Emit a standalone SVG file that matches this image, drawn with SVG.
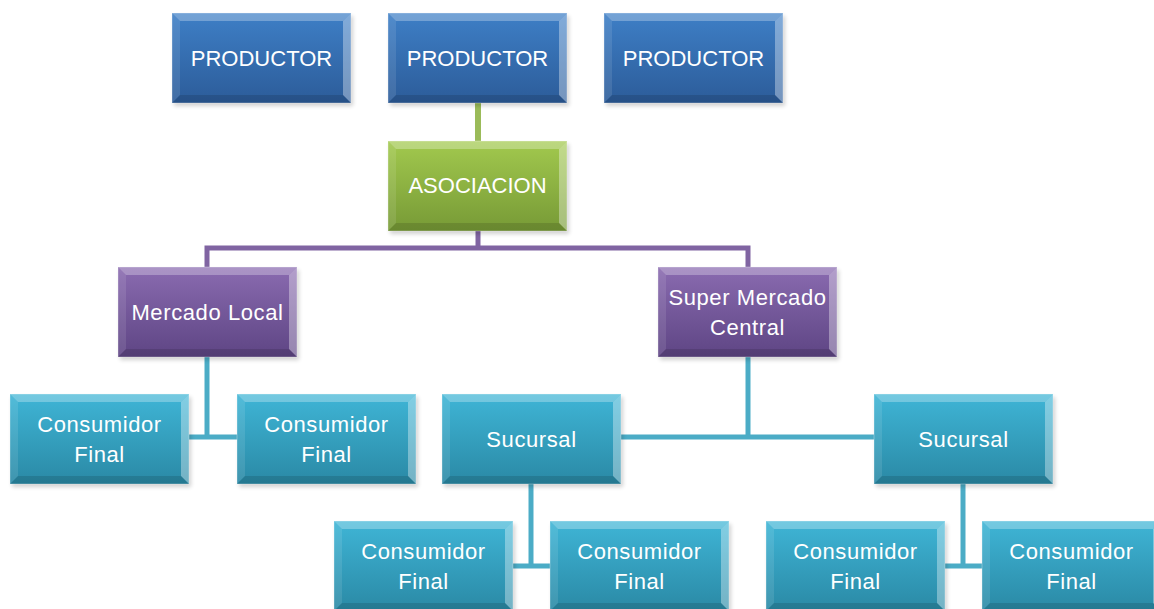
<svg xmlns="http://www.w3.org/2000/svg" xmlns:xlink="http://www.w3.org/1999/xlink" width="1154" height="609" viewBox="0 0 1154 609">
<style>
text{font-family:"Liberation Sans",Arial,sans-serif;font-size:22px;fill:#fff;text-anchor:middle}
.wide{letter-spacing:0.6px}
.c-green{stroke:#9bbb59;stroke-width:6;fill:none}
.c-purple{stroke:#8064a2;stroke-width:5;fill:none}
.c-cyan{stroke:#4bacc6;stroke-width:5;fill:none}
.blue{fill:url(#gBlue)}
.green{fill:url(#gGreen)}
.purple{fill:url(#gPurple)}
.cyan{fill:url(#gCyan)}
.shadow{fill:#000;opacity:0.18;filter:url(#blur)}
</style>
<defs>
<filter id="blur" x="-10%" y="-10%" width="120%" height="130%"><feGaussianBlur stdDeviation="2"/></filter>
<linearGradient id="gBlue" x1="0" y1="0" x2="0" y2="1"><stop offset="0" stop-color="#3e7fc6"/><stop offset="1" stop-color="#2c5c99"/></linearGradient>
<linearGradient id="gGreen" x1="0" y1="0" x2="0" y2="1"><stop offset="0" stop-color="#a2c94e"/><stop offset="1" stop-color="#779a36"/></linearGradient>
<linearGradient id="gPurple" x1="0" y1="0" x2="0" y2="1"><stop offset="0" stop-color="#8a6bb0"/><stop offset="1" stop-color="#5e4584"/></linearGradient>
<linearGradient id="gCyan" x1="0" y1="0" x2="0" y2="1"><stop offset="0" stop-color="#3fb5d6"/><stop offset="1" stop-color="#2a89a5"/></linearGradient>
<g id="bevel">
<polygon points="0,0 179,0 171,8 8,8" fill="#fff" opacity="0.28"/>
<polygon points="0,0 8,8 8,82 0,90" fill="#fff" opacity="0.1"/>
<polygon points="179,0 179,90 171,82 171,8" fill="#fff" opacity="0.35"/>
<polygon points="0,90 8,82 171,82 179,90" fill="#000" opacity="0.12"/>
<rect x="0" y="0" width="179" height="90" fill="none" stroke="#fff" stroke-opacity="0.3" stroke-width="1"/>
</g>
</defs>
<rect width="1154" height="609" fill="#fff"/>
<g id="connectors">
<line class="c-green" x1="478" y1="103" x2="478" y2="142"/>
<polyline class="c-purple" points="478,230 478,248"/>
<polyline class="c-purple" points="207,267 207,248 748,248 748,267"/>
<polyline class="c-cyan" points="207,357 207,437"/>
<polyline class="c-cyan" points="189,437 237,437"/>
<polyline class="c-cyan" points="748,357 748,437"/>
<polyline class="c-cyan" points="621,437 874,437"/>
<polyline class="c-cyan" points="531,484 531,566"/>
<polyline class="c-cyan" points="513,566 550,566"/>
<polyline class="c-cyan" points="963,484 963,566"/>
<polyline class="c-cyan" points="945,566 982,566"/>
</g>
<g id="productor1"><rect class="shadow" x="174" y="16" width="179" height="90"/><rect class="blue" x="172" y="13" width="179" height="90"/><use xlink:href="#bevel" x="172" y="13"/><text x="261.5" y="66">PRODUCTOR</text></g>
<g id="productor2"><rect class="shadow" x="390" y="16" width="179" height="90"/><rect class="blue" x="388" y="13" width="179" height="90"/><use xlink:href="#bevel" x="388" y="13"/><text x="477.5" y="66">PRODUCTOR</text></g>
<g id="productor3"><rect class="shadow" x="606" y="16" width="179" height="90"/><rect class="blue" x="604" y="13" width="179" height="90"/><use xlink:href="#bevel" x="604" y="13"/><text x="693.5" y="66">PRODUCTOR</text></g>
<g id="asociacion"><rect class="shadow" x="390" y="144" width="179" height="90"/><rect class="green" x="388" y="141" width="179" height="90"/><use xlink:href="#bevel" x="388" y="141"/><text x="477.5" y="193">ASOCIACION</text></g>
<g id="mercado-local"><rect class="shadow" x="120" y="270" width="179" height="90"/><rect class="purple" x="118" y="267" width="179" height="90"/><use xlink:href="#bevel" x="118" y="267"/><text class="wide" x="207.5" y="320">Mercado Local</text></g>
<g id="super-mercado"><rect class="shadow" x="660" y="270" width="179" height="90"/><rect class="purple" x="658" y="267" width="179" height="90"/><use xlink:href="#bevel" x="658" y="267"/><text class="wide" x="747.5" y="305">Super Mercado</text><text class="wide" x="747.5" y="335">Central</text></g>
<g id="consumidor1"><rect class="shadow" x="12" y="397" width="179" height="90"/><rect class="cyan" x="10" y="394" width="179" height="90"/><use xlink:href="#bevel" x="10" y="394"/><text class="wide" x="99.5" y="432">Consumidor</text><text class="wide" x="99.5" y="462">Final</text></g>
<g id="consumidor2"><rect class="shadow" x="239" y="397" width="179" height="90"/><rect class="cyan" x="237" y="394" width="179" height="90"/><use xlink:href="#bevel" x="237" y="394"/><text class="wide" x="326.5" y="432">Consumidor</text><text class="wide" x="326.5" y="462">Final</text></g>
<g id="sucursal1"><rect class="shadow" x="444" y="397" width="179" height="90"/><rect class="cyan" x="442" y="394" width="179" height="90"/><use xlink:href="#bevel" x="442" y="394"/><text class="wide" x="531.5" y="447">Sucursal</text></g>
<g id="sucursal2"><rect class="shadow" x="876" y="397" width="179" height="90"/><rect class="cyan" x="874" y="394" width="179" height="90"/><use xlink:href="#bevel" x="874" y="394"/><text class="wide" x="963.5" y="447">Sucursal</text></g>
<g id="consumidor3"><rect class="shadow" x="336" y="524" width="179" height="90"/><rect class="cyan" x="334" y="521" width="179" height="90"/><use xlink:href="#bevel" x="334" y="521"/><text class="wide" x="423.5" y="559">Consumidor</text><text class="wide" x="423.5" y="589">Final</text></g>
<g id="consumidor4"><rect class="shadow" x="552" y="524" width="179" height="90"/><rect class="cyan" x="550" y="521" width="179" height="90"/><use xlink:href="#bevel" x="550" y="521"/><text class="wide" x="639.5" y="559">Consumidor</text><text class="wide" x="639.5" y="589">Final</text></g>
<g id="consumidor5"><rect class="shadow" x="768" y="524" width="179" height="90"/><rect class="cyan" x="766" y="521" width="179" height="90"/><use xlink:href="#bevel" x="766" y="521"/><text class="wide" x="855.5" y="559">Consumidor</text><text class="wide" x="855.5" y="589">Final</text></g>
<g id="consumidor6"><rect class="shadow" x="984" y="524" width="179" height="90"/><rect class="cyan" x="982" y="521" width="179" height="90"/><use xlink:href="#bevel" x="982" y="521"/><text class="wide" x="1071.5" y="559">Consumidor</text><text class="wide" x="1071.5" y="589">Final</text></g>
</svg>
